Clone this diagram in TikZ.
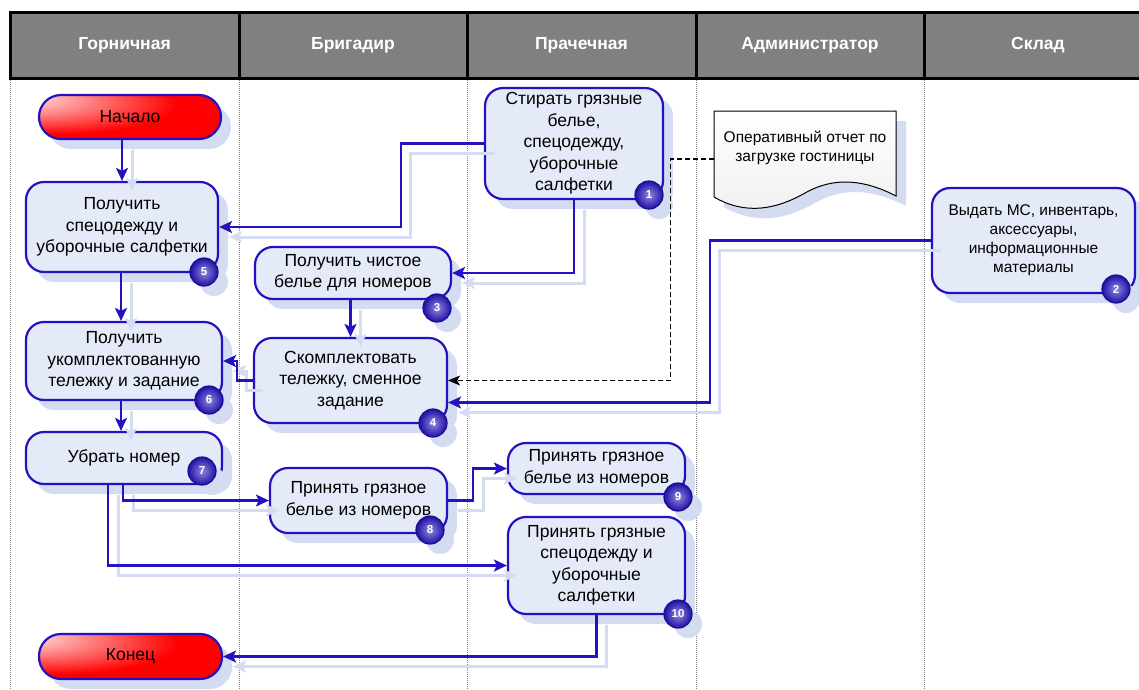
\documentclass[tikz,border=0pt]{standalone}
\usepackage{fontspec}
\setmainfont{Liberation Sans}
\usetikzlibrary{arrows.meta,shadows}

\definecolor{flowblue}{RGB}{36,18,194}
\definecolor{taskfill}{RGB}{228,234,247}
\definecolor{shadowblue}{RGB}{211,220,240}
\definecolor{headgray}{RGB}{128,128,128}
\pgfdeclareradialshading{termshade}{\pgfpoint{-32bp}{22bp}}{%
  color(0bp)=(red!12!white); color(6bp)=(red!22!white); color(34bp)=(red);
  color(100bp)=(red)}

\begin{document}
\begin{tikzpicture}[x=1pt,y=-1pt,
    head/.style={text=white,font=\fontsize{17.5}{20}\selectfont\bfseries},
    task/.style={draw=flowblue,line width=2.2pt,fill=taskfill,rounded corners=18pt,
        align=center,inner sep=2pt,font=\fontsize{17.5}{21.5}\selectfont,
        drop shadow={shadow xshift=10pt,shadow yshift=-10pt,fill=shadowblue,opacity=1}},
    term/.style={task,rounded corners=22pt,shade,shading=termshade},
    badge/.style={circle,draw=flowblue!75!black,line width=1.2pt,minimum size=28pt,inner sep=0pt,
        inner color=flowblue!50!white,outer color=flowblue!85!black,text=white,
        font=\fontsize{11.5}{12}\selectfont\bfseries,
        drop shadow={shadow xshift=10pt,shadow yshift=-10pt,fill=shadowblue,opacity=1}},
    flow/.style={draw=flowblue,line width=2.2pt,-{Stealth[length=13pt,width=12pt,inset=3pt]},
        preaction={draw=shadowblue,line width=3pt,transform canvas={shift={(10pt,-10pt)}}}},
    datalink/.style={draw=black,line width=1.2pt,dash pattern=on 5pt off 3pt,
        -{Stealth[length=12pt,width=10pt,inset=3pt]}}]

\useasboundingbox (0,0) rectangle (1139,689);

%-------------------------------------------- Lanes
\fill[headgray] (10,12) rectangle (1139,78);
\foreach \x in {10,239,467,696,924}{
  \draw[line width=3pt] (\x,12)--(\x,78);                                      % header borders
  \draw[gray,line width=.8pt,dash pattern=on 1pt off 1pt] (\x,78)--(\x,689);   % lane borders
}
\draw[line width=3pt] (8.5,12)--(1139,12) (8.5,78)--(1139,78);
% Lane names
\node[head] (hMaid)   at (124.5,45) {Горничная};
\node[head] (hBoss)   at (353,45)   {Бригадир};
\node[head] (hLaundry) at (581.5,45) {Прачечная};
\node[head] (hAdmin)  at (810,45)   {Администратор};
\node[head] (hStore)  at (1038,45)  {Склад};

%-------------------------------------------- Report (document)
\draw[line width=1pt,top color=white,bottom color=gray!12,
      drop shadow={shadow xshift=10pt,shadow yshift=-10pt,fill=shadowblue,opacity=1}]
   (714,111)--(896,111)--(896,196)
   .. controls (865,180) and (835,176) .. (805,193)
   .. controls (775,210) and (745,215) .. (714,197)--cycle;
\node[minimum width=182pt,minimum height=74pt,inner sep=0pt,align=center,
      font=\fontsize{15.5}{19}\selectfont] (report) at (805,148)
   {Оперативный отчет по\\загрузке гостиницы};

%-------------------------------------------- Steps
\node[term,minimum width=182pt,minimum height=44pt] (start) at (130,117) {Начало};
\node[task,minimum width=178pt,minimum height=111pt] (n1) at (574,143.5)
   {Стирать грязные\\белье,\\спецодежду,\\уборочные\\салфетки};
\node[task,minimum width=203pt,minimum height=105pt,font=\fontsize{15.5}{19}\selectfont] (n2) at (1033.5,240.5)
   {Выдать МС, инвентарь,\\аксессуары,\\информационные\\материалы};
\node[task,minimum width=192pt,minimum height=90pt] (n5) at (122,227)
   {Получить\\спецодежду и\\уборочные салфетки};
\node[task,minimum width=196pt,minimum height=52pt] (n3) at (353,273)
   {Получить чистое\\белье для номеров};
\node[task,minimum width=196pt,minimum height=78pt] (n6) at (124,361)
   {Получить\\укомплектованную\\тележку и задание};
\node[task,minimum width=193pt,minimum height=85pt] (n4) at (350.5,380.5)
   {Скомплектовать\\тележку, сменное\\задание};
\node[task,minimum width=196pt,minimum height=52pt] (n7) at (124,458) {Убрать номер};
\node[task,minimum width=177pt,minimum height=51pt] (n9) at (596.5,468.5)
   {Принять грязное\\белье из номеров};
\node[task,minimum width=177pt,minimum height=65pt] (n8) at (358.5,500.5)
   {Принять грязное\\белье из номеров};
\node[task,minimum width=177pt,minimum height=97pt] (n10) at (596.5,565.5)
   {Принять грязные\\спецодежду и\\уборочные\\салфетки};
\node[term,minimum width=183pt,minimum height=45pt] (stop) at (130.5,656.5) {Конец};

% Step numbers
\node[badge] (b1)  at (649,195)  {1};
\node[badge] (b2)  at (1116,289) {2};
\node[badge] (b3)  at (437,308)  {3};
\node[badge] (b4)  at (433,423)  {4};
\node[badge] (b5)  at (204,272)  {5};
\node[badge] (b6)  at (209,400)  {6};
\node[badge] (b7)  at (202,471)  {7};
\node[badge] (b8)  at (430,530)  {8};
\node[badge] (b9)  at (678,497)  {9};
\node[badge] (b10) at (678,614)  {10};

%-------------------------------------------- Flow
\draw[flow] (n5.north |- start.south)--(n5.north);
\draw[flow] (n1.west)--++(-83,0)|-(n5.east);
\draw[flow] (n1.south)|-(n3.east);
\draw[flow] (n4.north |- n3.south)--(n4.north);
\draw[flow] (n4.west)--++(-16,0)|-(n6.east);
\draw[datalink] ([yshift=-11pt]report.west)--++(-43,0)|-(n4.east);   % report to step 4
\draw[flow] (n2.west)--++(-221,0)|-([yshift=-22pt]n4.east);
\draw[flow] ([xshift=-1pt]n5.south)--([xshift=-1pt]n5.south |- n6.north);
\draw[flow] ([xshift=-3pt]n6.south)--([xshift=-3pt]n7.north);
\draw[flow] ([xshift=-1pt]n7.south)|-(n8.west);
\draw[flow] ([xshift=-16pt]n7.south)|-(n10.west);
\draw[flow] (n8.east)--++(25,0)|-(n9.west);
\draw[flow] (n10.south)|-(stop.east);

\end{tikzpicture}
\end{document}
